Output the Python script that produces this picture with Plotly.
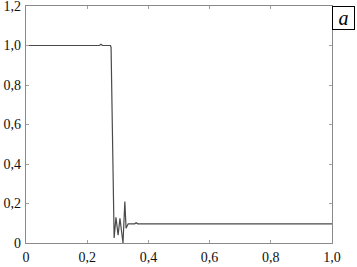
import plotly.graph_objects as go

# Signal
x_vals = [0.0, 0.24, 0.245, 0.25, 0.272, 0.276, 0.278, 0.288, 0.294, 0.301, 0.307,
          0.317, 0.323, 0.327, 0.334, 0.355, 0.36, 0.365, 1.0]
y_vals = [1.0, 1.0, 1.006, 1.0, 1.0, 1.0, 0.99, 0.025, 0.13, 0.04, 0.125,
          0.0, 0.21, 0.075, 0.097, 0.097, 0.103, 0.097, 0.097]

x_ticks = [0, 0.2, 0.4, 0.6, 0.8, 1.0]
x_tick_text = ["0", "0,2", "0,4", "0,6", "0,8", "1,0"]
y_ticks = [0, 0.2, 0.4, 0.6, 0.8, 1.0, 1.2]
y_tick_text = ["0", "0,2", "0,4", "0,6", "0,8", "1,0", "1,2"]
panel_label = "a"

FONT = "Liberation Serif"

fig = go.Figure()
fig.add_trace(go.Scatter(x=x_vals, y=y_vals, mode="lines",
                         line=dict(color="#4a4a4a", width=1.2),
                         showlegend=False, hoverinfo="skip"))

axis_common = dict(showgrid=False, zeroline=False, showline=True, linecolor="#8a8a8a",
                   linewidth=1.2, mirror="allticks", ticks="inside", ticklen=3,
                   tickcolor="#a0a0a0", tickwidth=1, automargin=False,
                   ticklabeloverflow="allow",
                   tickfont=dict(family=FONT, size=14, color="#111"))

fig.update_xaxes(range=[0, 1.0], tickvals=x_ticks, ticktext=x_tick_text,
                 ticklabelstandoff=1, **axis_common)
fig.update_yaxes(range=[0, 1.2], tickvals=y_ticks, ticktext=y_tick_text,
                 ticklabelstandoff=1, **axis_common)

fig.add_annotation(text="<i>" + panel_label + "</i>", xref="paper", yref="paper",
                   x=1, y=1, xanchor="left", yanchor="top", showarrow=False,
                   font=dict(family=FONT, size=20, color="#000"),
                   bordercolor="#000", borderwidth=1, borderpad=0,
                   width=21, height=22, bgcolor="white")

fig.update_layout(width=357, height=267,
                  margin=dict(l=26, r=25, t=6, b=24, autoexpand=False),
                  plot_bgcolor="white", paper_bgcolor="white",
                  font=dict(family=FONT))

fig.write_html("out.html", config={"displayModeBar": False},
               post_script="document.body.style.margin='0';document.body.style.overflow='hidden';")
